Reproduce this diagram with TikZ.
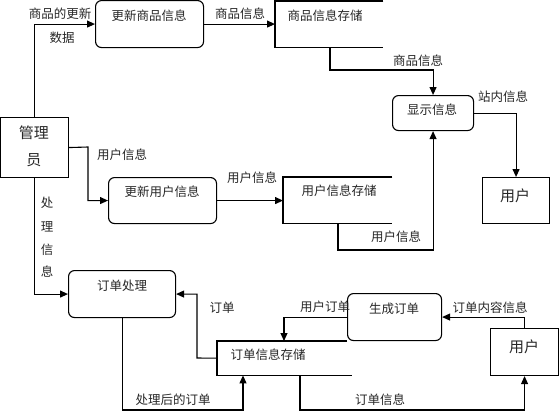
\documentclass[tikz,border=0pt]{standalone}
\usepackage{fontspec}
\newfontfamily\cjk{Noto Sans CJK SC}
\usetikzlibrary{arrows.meta,calc}
\begin{document}
\begin{tikzpicture}[x=1pt,y=-1pt,
  every node/.style={font=\cjk\fontsize{12.5}{14}\selectfont, text=black!85, inner sep=0pt},
  rbox/.style={draw, line width=1.1pt, rounded corners=6pt, anchor=north west},
  sqbox/.style={draw, line width=1.1pt, anchor=north west},
  store/.style={anchor=north west},
  side/.style={line width=1.1pt},
  arr/.style={line width=1.1pt, -{Triangle[length=8pt,width=7pt]}},
  big/.style={font=\cjk\fontsize{15}{17}\selectfont},
]
\useasboundingbox (0,0) rectangle (560,413);
% boxes
\node[sqbox, minimum width=68, minimum height=60] (mgr) at (0,117) {};
\node[big] (mgrt1) at (34,133) {管理};
\node[big] (mgrt2) at (34,160) {员};

\node[rbox, minimum width=108, minimum height=47] (p1) at (95,0) {};
\node (p1t) at (149,16) {更新商品信息};

\node[store, minimum width=108, minimum height=46] (s1) at (275,1) {};
\draw[side] (s1.north east) -- (s1.north west) -- (s1.south west) -- (s1.south east);
\node (s1t) at (325,16) {商品信息存储};

\node[rbox, minimum width=81, minimum height=35] (disp) at (392,95) {};
\node (dispt) at (432,110) {显示信息};

\node[sqbox, minimum width=67, minimum height=46] (u1) at (482,177) {};
\node[big] (u1t) at (515,196) {用户};

\node[rbox, minimum width=108, minimum height=46] (p2) at (108,177) {};
\node (p2t) at (162,192) {更新用户信息};

\node[store, minimum width=109, minimum height=46] (s2) at (283,177) {};
\draw[side] (s2.north east) -- (s2.north west) -- (s2.south west) -- (s2.south east);
\node (s2t) at (339,191) {用户信息存储};

\node[rbox, minimum width=107, minimum height=47] (p3) at (68,270) {};
\node (p3t) at (122,286) {订单处理};

\node[store, minimum width=135, minimum height=34] (s3) at (217,341) {};
\draw[side] ($(s3.north west)+(130,0)$) -- (s3.north west) -- (s3.south west) -- (s3.south east);
\node (s3t) at (268,355) {订单信息存储};

\node[rbox, minimum width=94, minimum height=47] (p4) at (347,293) {};
\node (p4t) at (394,309) {生成订单};

\node[sqbox, minimum width=68, minimum height=47] (u2) at (490,328) {};
\node[big] (u2t) at (524,347) {用户};

% coordinates
\coordinate (c1) at (330,70);
\coordinate (c2) at (88,147);
\coordinate (c3) at (338,250);
\coordinate (c4) at (197,358);
\coordinate (c5) at (243,410);
\coordinate (c7) at (300,410);

% connectors
\draw[arr] (mgr.north) |- (p1.west);
\draw[arr] (p1.east) -- (p1.east -| s1.west);
\draw[arr] (c1 |- s1.south) -- (c1) -| (disp.north);
\draw[arr] (disp.east) -| (u1.north);
\draw[arr] (mgr.east) -- (c2) |- (p2.west);
\draw[arr] (p2.east) -- (p2.east -| s2.west);
\draw[arr] (c3 |- s2.south) -- (c3) -| (disp.south);
\draw[arr] (mgr.south) |- (p3.west);
\draw[arr] (s3.west) -- (c4) |- (p3.east);
\draw[arr] (p3.south) |- (c5) -- (c5 |- s3.south);
\draw[arr] (p4.west) -| ($(s3.north west)+(67,0)$);
\draw[arr] (u2.north) |- (p4.east);
\draw[arr] (c7 |- s3.south) -- (c7) -| (u2.south);

% labels
\node (l1) at (60,14) {商品的更新};
\node (l1b) at (62,38) {数据};
\node (l2) at (240,14) {商品信息};
\node (l3) at (418,61) {商品信息};
\node (l4) at (503,97) {站内信息};
\node (l5) at (122,155) {用户信息};
\node (l6) at (252,178) {用户信息};
\node (l7) at (396,237) {用户信息};
\node (l8a) at (47,203) {处};
\node (l8b) at (47,227) {理};
\node (l8c) at (47,250) {信};
\node (l8d) at (47,272) {息};
\node (l9) at (222,308) {订单};
\node (l10) at (173,400) {处理后的订单};
\node (l11) at (325,307) {用户订单};
\node (l12) at (490,308) {订单内容信息};
\node (l13) at (380,400) {订单信息};
\end{tikzpicture}
\end{document}
